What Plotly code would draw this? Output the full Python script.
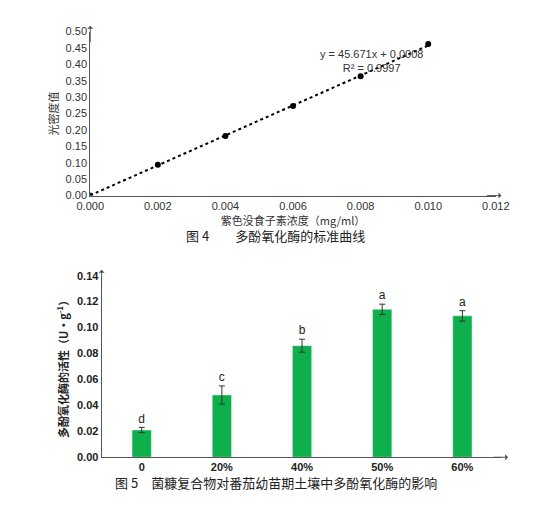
import plotly.graph_objects as go

conc = [0.0, 0.002, 0.004, 0.006, 0.008, 0.010]
od = [0.0, 0.094, 0.182, 0.273, 0.364, 0.462]
slope, intercept = 45.671, 0.0008
cats = ["0", "20%", "40%", "50%", "60%"]
ppo = [0.021, 0.048, 0.086, 0.114, 0.109]
err = [0.002, 0.007, 0.005, 0.004, 0.004]
letters = ["d", "c", "b", "a", "a"]

W, H = 535, 506
fx = lambda p: p / W
fy = lambda p: 1 - p / H
F = "Liberation Sans, Arial"
CJK = "Noto Sans CJK SC"

fig = go.Figure()
fig.add_trace(go.Scatter(x=[conc[0], conc[-1]], y=[slope*conc[0]+intercept, slope*conc[-1]+intercept],
                         mode="lines", line=dict(color="black", dash="dot", width=2), xaxis="x", yaxis="y", showlegend=False))
fig.add_trace(go.Scatter(x=conc, y=od, mode="markers", marker=dict(color="black", size=6),
                         xaxis="x", yaxis="y", showlegend=False))
fig.add_trace(go.Bar(x=cats, y=ppo, error_y=dict(type="data", array=err, color="#333", thickness=1, width=3),
                     marker_color="#0db04b", width=0.24, xaxis="x2", yaxis="y2", showlegend=False))
fig.add_trace(go.Scatter(x=cats, y=[v + e + 0.006 for v, e in zip(ppo, err)], text=letters, mode="text",
                         textfont=dict(family=F, size=12, color="#222"), xaxis="x2", yaxis="y2", showlegend=False))

ax = dict(showline=True, linecolor="#555", linewidth=1, showgrid=False, zeroline=False, ticks="")
fig.update_layout(
    width=W, height=H, margin=dict(l=0, r=0, t=0, b=0), plot_bgcolor="white", paper_bgcolor="white",
    xaxis=dict(ax, domain=[fx(72), fx(500)], range=[0, 0.012], dtick=0.002, tickformat=".3f",
               tickfont=dict(family=F, size=11, color="#333"), anchor="y",
               title=dict(text="紫色没食子素浓度（mg/ml）", font=dict(family=CJK, size=11, color="#333"), standoff=2)),
    yaxis=dict(ax, domain=[fy(186), fy(18)], range=[0, 0.5], dtick=0.05, tickformat=".2f",
               tickfont=dict(family=F, size=11, color="#333"), anchor="x",
               title=dict(text="光密度值", font=dict(family=CJK, size=11, color="#333"), standoff=4)),
    xaxis2=dict(ax, domain=[fx(84), fx(507)], anchor="y2",
                tickfont=dict(family=F, size=11, color="#222", weight="bold")),
    yaxis2=dict(ax, domain=[fy(454), fy(268)], range=[0, 0.14], dtick=0.02, tickformat=".2f", anchor="x2",
                tickfont=dict(family=F, size=11, color="#222", weight="bold"),
                title=dict(text="多酚氧化酶的活性（U·g<sup>-1</sup>）", font=dict(family=CJK, size=11, color="#222", weight="bold"), standoff=6)),
)
anns = [
    dict(x=0.0099, y=0.455, xref="x", yref="y", text="y = 45.671x + 0.0008<br>R² = 0.9997", showarrow=False,
         xanchor="right", yanchor="top", font=dict(family=F, size=11, color="#333"), align="center"),
    dict(x=fx(268), y=fy(227), xref="paper", yref="paper", text="图 4　　多酚氧化酶的标准曲线", showarrow=False,
         font=dict(family=CJK, size=13, color="#222")),
    dict(x=fx(268), y=fy(492), xref="paper", yref="paper", text="图 5　菌糠复合物对番茄幼苗期土壤中多酚氧化酶的影响", showarrow=False,
         font=dict(family=CJK, size=13, color="#222")),
]
# axis arrowheads
for (x0, y0, x1, y1) in [(72, 30, 72, 12), (490, 186, 506, 186), (84, 280, 84, 262), (497, 454, 513, 454)]:
    anns.append(dict(x=fx(x1), y=fy(y1), ax=x0 - x1, ay=y0 - y1, xref="paper", yref="paper",
                     showarrow=True, arrowhead=1, arrowwidth=1, arrowcolor="#555", text=""))
fig.update_layout(annotations=anns)
fig.write_html("out.html")
